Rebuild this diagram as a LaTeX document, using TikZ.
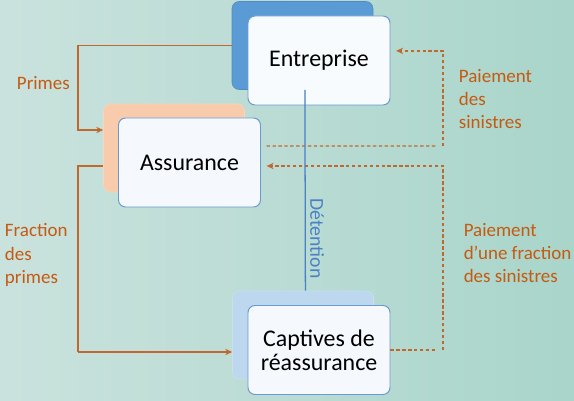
\documentclass[tikz,border=0pt]{standalone}
\usepackage{fontspec}
\setmainfont{Carlito}
\usetikzlibrary{arrows.meta}
\usetikzlibrary{positioning}
\definecolor{fondgauche}{HTML}{CAE2DD}
\definecolor{fonddroite}{HTML}{A9D5CA}
\definecolor{orangeflux}{HTML}{C0692F}
\definecolor{orangetexte}{HTML}{C55A11}
\definecolor{bleufonce}{HTML}{5B9BD5}
\definecolor{bleuclair}{HTML}{BDD7EE}
\definecolor{peche}{HTML}{F8CBAD}
\definecolor{bordbleu}{HTML}{6A9BD0}
\definecolor{detention}{HTML}{4A80C4}

\begin{document}
\begin{tikzpicture}[
    back/.style={
        rectangle,
        rounded corners=5pt,
        minimum width=3.525cm,
        minimum height=2.2cm
    },
    front/.style={
        rectangle,
        rounded corners=5pt,
        draw=bordbleu,
        line width=0.7pt,
        fill=white!93!bordbleu,
        minimum width=3.55cm,
        minimum height=2.225cm,
        align=center,
        font=\fontsize{17}{19}\selectfont
    },
    label/.style={
        text=orangetexte,
        align=left,
        anchor=west,
        font=\fontsize{13.5}{16.5}\selectfont
    },
    flux/.style={
        draw=orangeflux,
        line width=0.9pt,
        -{Stealth[length=5pt,width=4.5pt]}
    },
    paiement/.style={
        flux,
        dash pattern=on 2.4pt off 1.8pt,
        shorten >=4pt
    }
]
    % fond
    \shade[left color=fondgauche, right color=fonddroite] (0,0) rectangle (14.35,-10.025);
    \useasboundingbox (0,0) rectangle (14.35,-10.025);

    % boites
    \node (entback) [back, fill=bleufonce, draw=bleufonce!90!black] at (7.5625,-1.1375) {};
    \node (entreprise) [front, fill=white!90!bleuclair] at (7.975,-1.5125) {Entreprise};
    \node (assback) [back, fill=peche, draw=peche!80!white] at (4.35,-3.7) {};
    \node (assurance) [front] at (4.7375,-4.0625) {Assurance};
    \node (capback) [back, fill=bleuclair, draw=bleuclair!80!white] at (7.575,-8.375) {};
    \node (captives) [front] at (7.975,-8.75) {Captives de\\[-2pt]réassurance};

    % primes
    \coordinate (gauche) at (1.95,-3.25);
    \draw [flux] (entback.west) -| (gauche) -- (gauche -| assback.west);
    \coordinate (gauchebas) at (1.95,-8.8);
    \draw [flux, -] ([yshift=-0.45cm]assback.west) -| (gauchebas);
    \draw [flux] (gauchebas) -- (gauchebas -| capback.west);

    % sinistres
    \coordinate (droite) at (11.075,-3.65);
    \draw [paiement, -] ([xshift=4pt,yshift=0.4125cm]assurance.east) -- (droite);
    \draw [paiement] (droite) |- ([yshift=0.24cm]entreprise.east);
    \coordinate (droitebas) at (11.075,-8.75);
    \draw [paiement, -] (captives.east) -- (droitebas);
    \draw [paiement] (droitebas) |- ([yshift=-0.0875cm]assurance.east);

    % detention
    \draw [detention, line width=0.9pt] ([xshift=0.06cm]entback.south) -- ([xshift=0.06cm]capback.north)
        node [pos=0.74, rotate=-90, anchor=south, inner sep=3pt, text=detention, font=\fontsize{14}{16}\selectfont] (det) {Détention};

    % textes
    \node (primes) [label] at (0.3,-2.075) {Primes};
    \node (psin) [label] at (11.35,-2.475) {Paiement\\des\\sinistres};
    \node (fprimes) [label] at (0,-6.375) {Fraction\\des\\primes};
    \node (pfrac) [label] at (11.47,-6.325) {Paiement\\d’une fraction\\des sinistres};
\end{tikzpicture}
\end{document}
